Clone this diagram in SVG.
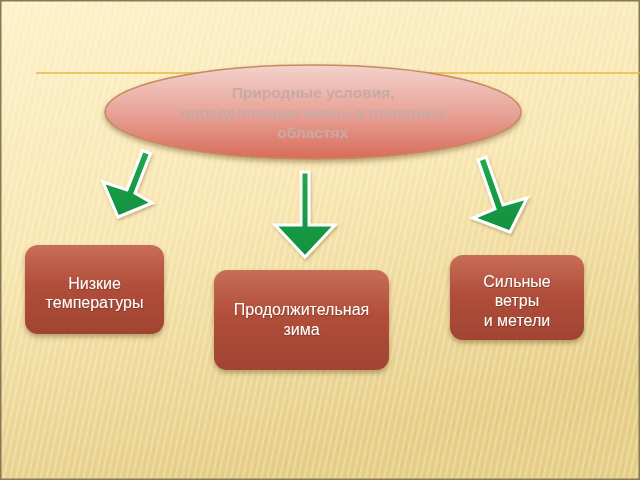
<svg xmlns="http://www.w3.org/2000/svg" width="640" height="480" viewBox="0 0 640 480">
<defs>
<linearGradient id="bg" x1="0" y1="0" x2="0.3" y2="1">
<stop offset="0" stop-color="#fdf1c8"/>
<stop offset="0.5" stop-color="#f8e6b0"/>
<stop offset="1" stop-color="#e6cd86"/>
</linearGradient>
<pattern id="stripes" width="6" height="480" patternUnits="userSpaceOnUse" patternTransform="rotate(12)">
<rect x="0" y="0" width="2" height="480" fill="#ffffff" opacity="0.25"/>
</pattern>
<linearGradient id="ell" x1="0" y1="0" x2="0" y2="1">
<stop offset="0" stop-color="#f3d2cc"/>
<stop offset="0.5" stop-color="#e8a498"/>
<stop offset="1" stop-color="#d86c5a"/>
</linearGradient>
<linearGradient id="box" x1="0" y1="0" x2="0" y2="1">
<stop offset="0" stop-color="#c86e58"/>
<stop offset="0.45" stop-color="#b04e3a"/>
<stop offset="1" stop-color="#a04432"/>
</linearGradient>
<linearGradient id="grn" x1="0" y1="0" x2="0" y2="1">
<stop offset="0" stop-color="#22a84a"/>
<stop offset="1" stop-color="#109040"/>
</linearGradient>
<filter id="sh" x="-10%" y="-10%" width="120%" height="130%">
<feDropShadow dx="0" dy="3" stdDeviation="2.5" flood-color="#6a5020" flood-opacity="0.45"/>
</filter>
<filter id="ash" x="-20%" y="-20%" width="140%" height="140%">
<feDropShadow dx="1" dy="2" stdDeviation="1.5" flood-color="#6a5020" flood-opacity="0.35"/>
</filter>
<filter id="tsh" x="-5%" y="-20%" width="110%" height="150%">
<feDropShadow dx="0.5" dy="1" stdDeviation="0.6" flood-color="#5a2010" flood-opacity="0.5"/>
</filter>
<style>
.box{fill:url(#box);filter:url(#sh);}
.bt{font-family:"Liberation Sans",Arial,sans-serif;font-size:16px;fill:#ffffff;text-anchor:middle;filter:url(#tsh);}
.et{font-family:"Liberation Sans",Arial,sans-serif;font-size:15.5px;font-weight:bold;fill:#c9a9a5;text-anchor:middle;}
.arr{fill:url(#grn);stroke:#ffffff;stroke-width:3;stroke-linejoin:miter;filter:url(#ash);}
</style>
</defs>
<rect x="0" y="0" width="640" height="480" fill="url(#bg)"/>
<rect x="0" y="0" width="640" height="480" fill="url(#stripes)"/>
<rect x="0.75" y="0.75" width="638.5" height="478.5" fill="none" stroke="#857a55" stroke-width="1.5"/>
<line x1="36" y1="73" x2="640" y2="73" stroke="#e8b846" stroke-width="1.5"/>

<g id="connectors">
<polygon class="arr" points="142.5,150.5 150.5,153.5 135,193 152,203 118,217 103,182 127,190"/>
<polygon class="arr" points="301,172 309,172 309,225 335,225 305,257 275,225 301,225"/>
<polygon class="arr" points="478,160 486,157 503,205 527,198 510,232 473,218 495,209"/>
</g>

<g id="node-top">
<ellipse cx="313" cy="112" rx="208" ry="47" fill="url(#ell)" stroke="#c58a60" stroke-width="1.5" filter="url(#sh)"/>
<text class="et" x="313" y="98">Природные условия,</text>
<text class="et" x="313" y="118">определяющие жизнь в полярных</text>
<text class="et" x="313" y="138">областях</text>
</g>

<g id="node-left">
<rect class="box" x="25" y="245" width="139" height="89" rx="13"/>
<text class="bt" x="94.5" y="289">Низкие</text>
<text class="bt" x="94.5" y="308">температуры</text>
</g>

<g id="node-middle">
<rect class="box" x="214" y="270" width="175" height="100" rx="13"/>
<text class="bt" x="301.5" y="315">Продолжительная</text>
<text class="bt" x="301.5" y="335">зима</text>
</g>

<g id="node-right">
<rect class="box" x="450" y="255" width="134" height="85" rx="13"/>
<text class="bt" x="517" y="287">Сильные</text>
<text class="bt" x="517" y="306">ветры</text>
<text class="bt" x="517" y="326">и метели</text>
</g>
</svg>
